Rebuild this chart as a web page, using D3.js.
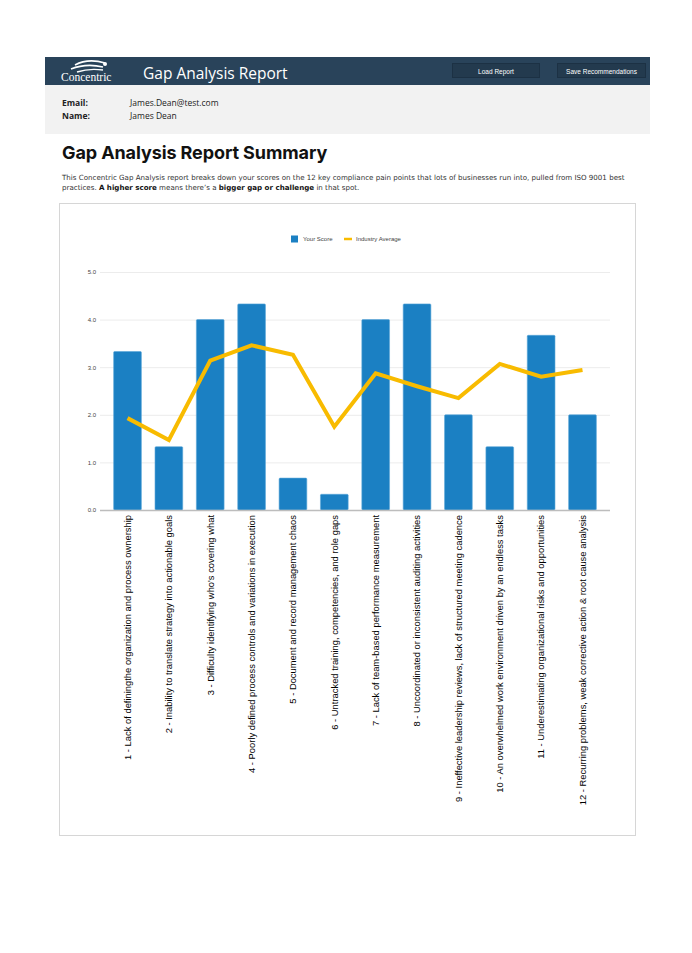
<!DOCTYPE html>
<html>
<head>
<meta charset="utf-8">
<script src="https://cdn.jsdelivr.net/npm/d3@7"></script>
<style>
  body { margin: 0; background: #fff; font-family: "Liberation Sans", Arial, sans-serif; }
  #page { position: relative; width: 692px; height: 953px; }
  .header { position: absolute; left: 45px; top: 57px; width: 605px; height: 28px; background: #29435a; }
  .logo { position: absolute; left: 8px; top: 0; }
  .title { position: absolute; left: 98px; top: 5px; color: #fff; font-family: "Open Sans", sans-serif; font-size: 15.5px; }
  .btn { position: absolute; top: 6px; height: 15px; border: 1px solid #1c3144; background: #233a4e; color: #fff;
         font-size: 6.5px; line-height: 15px; text-align: center; box-sizing: border-box; }
  .info { position: absolute; left: 45px; top: 85px; width: 605px; height: 49px; background: #f2f2f2; font-size: 8.5px; color: #222; font-family: "Open Sans", sans-serif; }
  .info div { position: absolute; }
  .info b { font-weight: 700; }
  h1 { position: absolute; left: 62px; top: 142px; margin: 0; font-family: "Inter", sans-serif; font-weight: 700; font-size: 18px; color: #111; letter-spacing: -0.1px; }
  .desc { position: absolute; left: 62px; top: 173px; width: 572px; font-family: "DejaVu Sans", sans-serif; font-size: 7.1px; line-height: 10px; color: #333; }
  .desc b { color: #111; }
  .box { position: absolute; left: 59px; top: 203px; width: 577px; height: 633px; border: 1px solid #d6d6d6; box-sizing: border-box; }
  #chart { position: absolute; left: 59px; top: 203px; }
</style>
</head>
<body>
<div id="page">
  <div class="header">
    <svg class="logo" width="70" height="28">
      <path d="M22,8 Q35,1 52,6" stroke="#fff" stroke-width="1.6" fill="none"/>
      <path d="M18,12 Q33,6 50,10" stroke="#fff" stroke-width="1.6" fill="none"/>
      <path d="M24,15 Q36,11 50,13" stroke="#fff" stroke-width="1.4" fill="none"/>
      <circle cx="52" cy="7" r="2" fill="#fff"/>
      <text x="8" y="24" fill="#fff" font-family="Liberation Serif, serif" font-size="11.5">Concentric</text>
    </svg>
    <div class="title">Gap Analysis Report</div>
    <div class="btn" style="left:407px;width:88px;">Load Report</div>
    <div class="btn" style="left:512px;width:89px;">Save Recommendations</div>
  </div>
  <div class="info">
    <div style="left:17px;top:12px;"><b>Email:</b></div>
    <div style="left:85px;top:12px;">James.Dean@test.com</div>
    <div style="left:17px;top:25px;"><b>Name:</b></div>
    <div style="left:85px;top:25px;">James Dean</div>
  </div>
  <h1>Gap Analysis Report Summary</h1>
  <div class="desc">This Concentric Gap Analysis report breaks down your scores on the 12 key compliance pain points that lots of businesses run into, pulled from ISO 9001 best practices. <b>A higher score</b> means there’s a <b>bigger gap or challenge</b> in that spot.</div>
  <div class="box"></div>
  <svg id="chart"></svg>
</div>
<script>
const categories = [
  "1 - Lack of definingthe organization and process ownership",
  "2 - Inability to translate strategy into actionable goals",
  "3 - Difficulty identifying who's covering what",
  "4 - Poorly defined process controls and variations in execution",
  "5 - Document and record management chaos",
  "6 - Untracked training, competencies, and role gaps",
  "7 - Lack of team-based performance measurement",
  "8 - Uncoordinated or inconsistent auditing activities",
  "9 - Ineffective leadership reviews, lack of structured meeting cadence",
  "10 - An overwhelmed work environment driven by an endless tasks",
  "11 - Underestimating organizational risks and opportunities",
  "12 - Recurring problems, weak corrective action & root cause analysis",
];
const yourScore = [3.33, 1.33, 4.0, 4.33, 0.67, 0.33, 4.0, 4.33, 2.0, 1.33, 3.67, 2.0];
const industryAverage = [1.93, 1.47, 3.14, 3.46, 3.26, 1.75, 2.87, 2.6, 2.35, 3.07, 2.8, 2.94];
const yTicks = [0, 1, 2, 3, 4, 5];
const seriesNames = ["Your Score", "Industry Average"];

const width = 577;
const height = 633;
const margin = { left: 41, right: 26, top: 69, bottom: 326 };
const barColor = "#1b80c3";
const lineColor = "#f8bb00";

const svg = d3.select("#chart").attr("width", width).attr("height", height);

const xScale = d3
  .scaleBand()
  .domain(categories)
  .range([margin.left, width - margin.right])
  .padding(0.33);

const yScale = d3
  .scaleLinear()
  .domain([0, 5])
  .range([height - margin.bottom, margin.top]);

// grid + y labels
const yAxis = d3.axisLeft(yScale).tickValues(yTicks).tickFormat(d3.format(".1f")).tickSize(0);
svg
  .append("g")
  .attr("transform", `translate(${margin.left}, 0)`)
  .call(yAxis)
  .call((g) => g.select(".domain").remove())
  .call((g) =>
    g.selectAll(".tick text")
      .attr("x", -4)
      .attr("fill", "#444")
      .style("font-family", "Liberation Sans, Arial, sans-serif")
      .style("font-size", "6px")
  )
  .call((g) =>
    g.selectAll(".tick line")
      .clone()
      .attr("x2", width - margin.left - margin.right)
      .attr("stroke", "#ececec")
      .attr("stroke-width", 1)
  );

// bars
svg
  .append("g")
  .selectAll("rect")
  .data(yourScore)
  .join("rect")
  .attr("x", (d, i) => xScale(categories[i]))
  .attr("y", (d) => yScale(d))
  .attr("width", xScale.bandwidth())
  .attr("height", (d) => yScale(0) - yScale(d))
  .attr("rx", 1)
  .attr("fill", barColor)
  .attr("stroke", "#5aa6d8")
  .attr("stroke-width", 0.6);

// baseline
svg
  .append("line")
  .attr("x1", margin.left)
  .attr("x2", width - margin.right)
  .attr("y1", yScale(0) + 0.5)
  .attr("y2", yScale(0) + 0.5)
  .attr("stroke", "#bdbdbd")
  .attr("stroke-width", 1.5);

// industry average line
const line = d3
  .line()
  .x((d, i) => xScale(categories[i]) + xScale.bandwidth() / 2)
  .y((d) => yScale(d));

svg
  .append("path")
  .datum(industryAverage)
  .attr("d", line)
  .attr("fill", "none")
  .attr("stroke", lineColor)
  .attr("stroke-width", 4)
  .attr("stroke-linejoin", "miter");

// x labels, rotated
const xAxis = d3.axisBottom(xScale).tickSize(0);
svg
  .append("g")
  .attr("transform", `translate(0, ${height - margin.bottom})`)
  .call(xAxis)
  .call((g) => g.select(".domain").remove())
  .call((g) =>
    g.selectAll(".tick text")
      .attr("transform", "rotate(-90)")
      .attr("x", -5)
      .attr("y", 0)
      .attr("dy", "0.35em")
      .attr("text-anchor", "end")
      .attr("fill", "#000")
      .style("font-family", "Liberation Sans, Arial, sans-serif")
      .style("font-size", "9.4px")
  );

// legend
const legend = svg.append("g").attr("transform", "translate(232, 36)");
legend.append("rect").attr("x", 0).attr("y", -3.5).attr("width", 7).attr("height", 7).attr("fill", barColor);
legend.append("text").attr("x", 12).attr("y", 0).attr("dy", "0.35em")
  .style("font-size", "6px").attr("fill", "#444").text(seriesNames[0]);
legend.append("line").attr("x1", 53).attr("x2", 61).attr("y1", 0).attr("y2", 0)
  .attr("stroke", lineColor).attr("stroke-width", 2.5);
legend.append("text").attr("x", 65).attr("y", 0).attr("dy", "0.35em")
  .style("font-size", "6px").attr("fill", "#444").text(seriesNames[1]);
</script>
</body>
</html>
